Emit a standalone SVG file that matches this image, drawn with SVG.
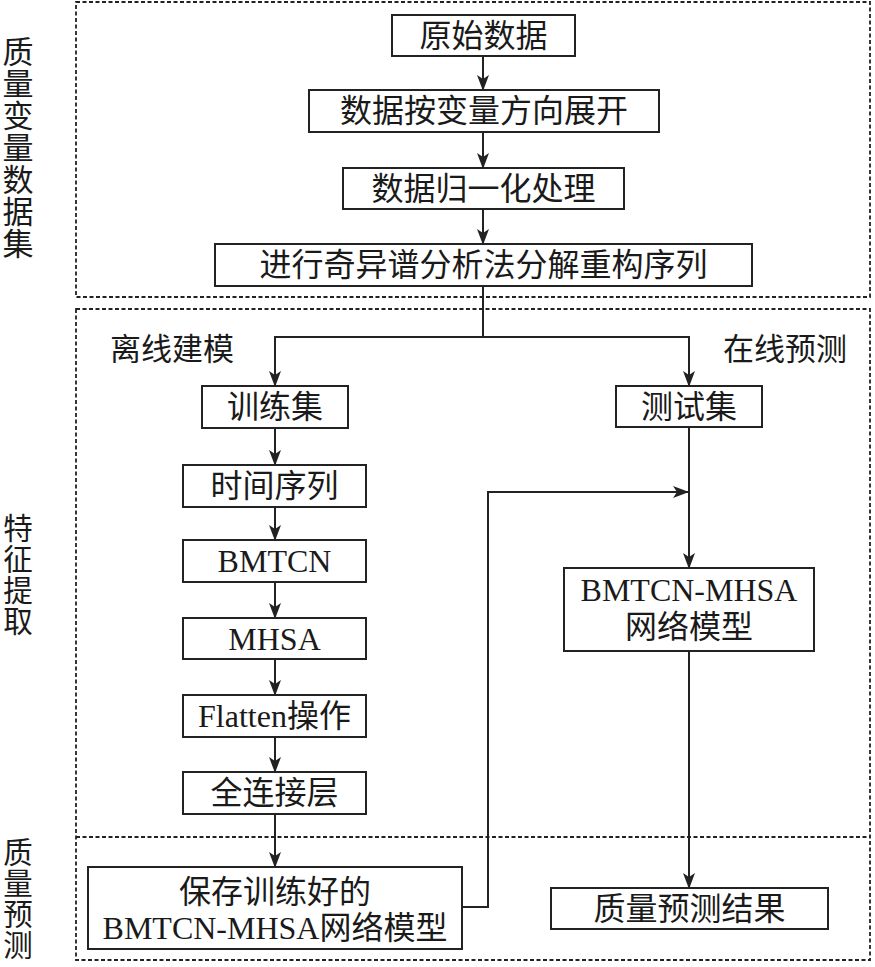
<svg xmlns="http://www.w3.org/2000/svg" width="875" height="967" viewBox="0 0 875 967">
<style>
.box{fill:#fff;stroke:#222;stroke-width:2}
.dash{fill:none;stroke:#222;stroke-width:1.8;stroke-dasharray:4 2.5}
.t{font-family:"Liberation Serif","Noto Sans CJK SC",serif;font-size:32px;fill:#1a1a1a;text-anchor:middle}
.lab{font-family:"Liberation Serif","Noto Sans CJK SC",serif;font-size:31px;fill:#1a1a1a}
.side{font-family:"Liberation Serif","Noto Sans CJK SC",serif;font-size:31px;fill:#1a1a1a;text-anchor:middle}
.side2{font-family:"Liberation Serif","Noto Sans CJK SC",serif;font-size:29.5px;fill:#1a1a1a;text-anchor:middle}
.c{fill:none;stroke:#222;stroke-width:2}
</style>
<defs>
<marker id="arr" markerUnits="userSpaceOnUse" markerWidth="16" markerHeight="12" viewBox="0 0 16 12" refX="15" refY="6" orient="auto">
<path d="M0,0 L16,6 L0,12 L4,6 z" fill="#222"/>
</marker>
</defs>
<g id="regions">
<rect class="dash" x="76" y="2" width="794" height="295"/>
<rect class="dash" x="76" y="309" width="794" height="651"/>
<line class="dash" x1="76" y1="837" x2="870" y2="837"/>
</g>
<g id="side-labels">
<text class="side"><tspan x="18" y="63">质</tspan><tspan x="18" y="95">量</tspan><tspan x="18" y="127">变</tspan><tspan x="18" y="159">量</tspan><tspan x="18" y="191">数</tspan><tspan x="18" y="223">据</tspan><tspan x="18" y="255">集</tspan></text>
<text class="side2"><tspan x="18" y="539">特</tspan><tspan x="18" y="570">征</tspan><tspan x="18" y="601">提</tspan><tspan x="18" y="632">取</tspan></text>
<text class="side2"><tspan x="18" y="863">质</tspan><tspan x="18" y="894">量</tspan><tspan x="18" y="925">预</tspan><tspan x="18" y="956">测</tspan></text>
</g>
<g id="branch-labels">
<text class="lab" x="110" y="360">离线建模</text>
<text class="lab" x="723" y="360">在线预测</text>
</g>
<g id="connectors">
<line class="c" x1="483" y1="56" x2="483" y2="90" marker-end="url(#arr)"/>
<line class="c" x1="483" y1="132" x2="483" y2="168" marker-end="url(#arr)"/>
<line class="c" x1="483" y1="209" x2="483" y2="244" marker-end="url(#arr)"/>
<line class="c" x1="483" y1="286" x2="483" y2="337"/>
<polyline class="c" points="483,337 275,337 275,386" marker-end="url(#arr)"/>
<polyline class="c" points="483,337 689,337 689,386" marker-end="url(#arr)"/>
<line class="c" x1="275" y1="428" x2="275" y2="465" marker-end="url(#arr)"/>
<line class="c" x1="275" y1="507" x2="275" y2="540" marker-end="url(#arr)"/>
<line class="c" x1="275" y1="582" x2="275" y2="618" marker-end="url(#arr)"/>
<line class="c" x1="275" y1="659" x2="275" y2="695" marker-end="url(#arr)"/>
<line class="c" x1="275" y1="737" x2="275" y2="772" marker-end="url(#arr)"/>
<line class="c" x1="275" y1="814" x2="275" y2="867" marker-end="url(#arr)"/>
<line class="c" x1="689" y1="427" x2="689" y2="568" marker-end="url(#arr)"/>
<polyline class="c" points="462,907 488,907 488,492 688,492" marker-end="url(#arr)"/>
<line class="c" x1="689" y1="651" x2="689" y2="888" marker-end="url(#arr)"/>
</g>
<g id="n-raw"><rect class="box" x="392" y="15" width="183" height="41"/><text class="t" x="483.5" y="47">原始数据</text></g>
<g id="n-unfold"><rect class="box" x="309" y="90" width="350" height="42"/><text class="t" x="484" y="122">数据按变量方向展开</text></g>
<g id="n-norm"><rect class="box" x="343" y="168" width="281" height="41"/><text class="t" x="483.5" y="200">数据归一化处理</text></g>
<g id="n-ssa"><rect class="box" x="215" y="244" width="537" height="42"/><text class="t" x="483.5" y="276">进行奇异谱分析法分解重构序列</text></g>
<g id="n-train"><rect class="box" x="202" y="386" width="146" height="42"/><text class="t" x="275" y="418">训练集</text></g>
<g id="n-ts"><rect class="box" x="183" y="465" width="183" height="42"/><text class="t" x="274.5" y="497">时间序列</text></g>
<g id="n-bmtcn"><rect class="box" x="183" y="540" width="183" height="42"/><text class="t" x="274.5" y="572">BMTCN</text></g>
<g id="n-mhsa"><rect class="box" x="183" y="618" width="183" height="41"/><text class="t" x="274.5" y="650">MHSA</text></g>
<g id="n-flatten"><rect class="box" x="183" y="695" width="183" height="42"/><text class="t" x="274.5" y="727">Flatten操作</text></g>
<g id="n-fc"><rect class="box" x="183" y="772" width="183" height="42"/><text class="t" x="274.5" y="804">全连接层</text></g>
<g id="n-save"><rect class="box" x="88" y="867" width="374" height="82"/><text class="t" x="275" y="903">保存训练好的</text><text class="t" x="275" y="939">BMTCN-MHSA网络模型</text></g>
<g id="n-test"><rect class="box" x="616" y="386" width="146" height="41"/><text class="t" x="689" y="418">测试集</text></g>
<g id="n-model"><rect class="box" x="564" y="568" width="250" height="83"/><text class="t" x="689" y="601">BMTCN-MHSA</text><text class="t" x="689" y="638">网络模型</text></g>
<g id="n-result"><rect class="box" x="551" y="888" width="277" height="41"/><text class="t" x="689.5" y="920">质量预测结果</text></g>
</svg>
